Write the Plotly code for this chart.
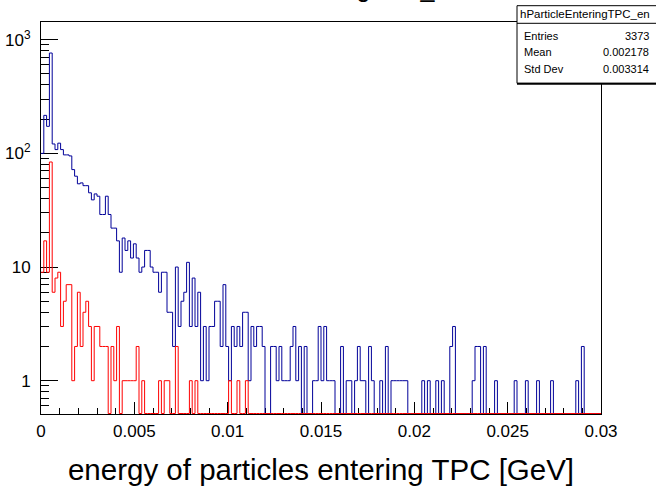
import numpy as np
import plotly.graph_objects as go

# Histogram binning: 200 bins between 0 and 0.03 GeV
x_min, x_max, n_bins = 0.0, 0.03, 200

# Bin contents of the two histograms (counts per bin)
blue_counts = [
    100, 216, 173, 764, 121, 108, 123, 108, 97, 97,
    95, 72, 63, 54, 55, 52, 52, 45, 39, 44,
    42, 29, 29, 42, 29, 22, 22, 17, 9, 18,
    14, 17, 12, 16, 12, 9, 10, 14, 14, 10,
    9, 9, 6, 9, 9, 4, 4, 2, 10, 3,
    5, 6, 11, 3, 8, 3, 6, 1, 3, 1,
    3, 3, 5, 5, 2, 7, 2, 1, 3, 2,
    3, 2, 4, 4, 1, 3, 2, 3, 3, 2,
    0, 0, 2, 2, 1, 2, 1, 1, 1, 2,
    3, 1, 2, 0, 2, 0, 0, 1, 1, 3,
    1, 3, 1, 1, 1, 0, 0, 2, 0, 1,
    1, 0, 1, 2, 1, 1, 0, 2, 1, 0,
    0, 1, 0, 2, 0, 1, 1, 1, 1, 1,
    1, 0, 0, 0, 0, 0, 1, 0, 1, 0,
    0, 1, 0, 1, 0, 0, 2, 3, 0, 0,
    0, 0, 0, 0, 1, 2, 2, 0, 2, 0,
    0, 0, 1, 0, 0, 0, 0, 0, 0, 1,
    0, 0, 0, 1, 0, 0, 0, 1, 0, 0,
    0, 0, 1, 0, 0, 0, 0, 0, 0, 0,
    0, 1, 0, 2, 0, 0, 0, 0, 0, 0,
]
red_counts = [
    9, 17, 9, 84, 6, 8, 9, 3, 5, 7,
    7, 1, 2, 6, 2, 4, 5, 3, 1, 3,
    3, 2, 2, 2, 0, 2, 1, 3, 0, 1,
    1, 1, 1, 1, 2, 0, 1, 0, 0, 0,
    0, 0, 1, 0, 1, 1, 0, 0, 2, 0,
    0, 0, 0, 1, 0, 1, 0, 0, 0, 0,
    0, 0, 0, 0, 0, 0, 0, 1, 0, 0,
    1, 0, 0, 1, 0, 0, 0, 0, 0, 0,
] + [0] * 120

# Axis tick labels
x_tick_vals = [0, 0.005, 0.01, 0.015, 0.02, 0.025, 0.03]
x_tick_text = ["0", "0.005", "0.01", "0.015", "0.02", "0.025", "0.03"]
y_tick_vals = [1, 10, 100, 1000]
y_tick_text = ["1", "10", "10<sup>2</sup>", "10<sup>3</sup>"]

# Statistics box contents
hist_name = "hParticleEnteringTPC_en"
stat_labels = ["Entries", "Mean", "Std Dev"]
stat_values = ["3373", "0.002178", "0.003314"]
x_title = "energy of particles entering TPC [GeV]"

# ---------------------------------------------------------------- layout
W, H = 656, 486
M_L, M_R, M_T, M_B = 41, 55, 22, 72
PW, PH = W - M_L - M_R, H - M_T - M_B

y_log_range = [-0.293, 3.156]
# empty bins are drawn along the bottom edge of the frame
y_floor = 10 ** (y_log_range[0] + 0.5 * (y_log_range[1] - y_log_range[0]) / PH)

edges = np.linspace(x_min, x_max, n_bins + 1)


def step_xy(counts):
    c = np.asarray(counts, dtype=float)
    c = np.where(c > 0, c, y_floor)
    return edges, np.append(c, c[-1])


def px(xpix):
    return (xpix - M_L) / PW


def py(ypix):
    return (H - M_B - ypix) / PH


fig = go.Figure()
for counts, color in [(blue_counts, "#000099"), (red_counts, "#ff0000")]:
    xs, ys = step_xy(counts)
    fig.add_trace(go.Scatter(
        x=xs, y=ys, mode="lines", line=dict(color=color, width=1, shape="hv"),
        hoverinfo="skip", showlegend=False,
    ))

minor_y = [v * 10 ** e for e in range(-1, 3) for v in range(2, 10) if 0.5 < v * 10 ** e < 1500]

fig.update_layout(
    width=W, height=H,
    margin=dict(l=M_L, r=M_R, t=M_T, b=M_B, pad=0),
    paper_bgcolor="white", plot_bgcolor="white",
    font=dict(family="Liberation Sans, Arial, sans-serif", color="black"),
    xaxis=dict(
        range=[x_min, x_max], tickmode="array", tickvals=x_tick_vals, ticktext=x_tick_text,
        ticks="inside", ticklen=12, tickcolor="black", tickwidth=1,
        minor=dict(dtick=0.001, tick0=0, ticks="inside", ticklen=6, tickcolor="black", showgrid=False),
        showline=True, linecolor="black", linewidth=1, mirror=True,
        showgrid=False, zeroline=False, layer="below traces", automargin=False,
        tickfont=dict(size=17), ticklabelstandoff=2,
        title=dict(text=x_title, font=dict(size=29.5), standoff=19),
    ),
    yaxis=dict(
        type="log", range=y_log_range, tickmode="array", tickvals=y_tick_vals, ticktext=y_tick_text,
        ticks="inside", ticklen=17, tickcolor="black", tickwidth=1,
        minor=dict(tickmode="array", tickvals=minor_y, ticks="inside", ticklen=8,
                   tickcolor="black", showgrid=False),
        showline=True, linecolor="black", linewidth=1, mirror=True,
        showgrid=False, zeroline=False, layer="below traces", automargin=False,
        tickfont=dict(size=17), ticklabelstandoff=6,
    ),
)

# Histogram title (sits mostly above the canvas)
fig.add_annotation(
    text=hist_name, xref="paper", yref="paper", x=px(320.5), y=py(4.3),
    xanchor="center", yanchor="bottom", showarrow=False, font=dict(size=25),
)

# Statistics box
box_l, box_r, box_t, box_b, sep = 517, 662, 5.7, 83.3, 23.3
fig.add_shape(type="rect", xref="paper", yref="paper",
              x0=px(box_l), x1=px(box_r), y0=py(box_b), y1=py(box_t),
              line=dict(color="black", width=1), fillcolor="white", layer="above")
fig.add_shape(type="line", xref="paper", yref="paper",
              x0=px(box_l), x1=px(box_r), y0=py(box_b + 0.5), y1=py(box_b + 0.5),
              line=dict(color="black", width=2), layer="above")
fig.add_shape(type="line", xref="paper", yref="paper",
              x0=px(box_l), x1=px(box_r), y0=py(sep), y1=py(sep),
              line=dict(color="black", width=1), layer="above")
fig.add_annotation(text=hist_name, xref="paper", yref="paper", x=px(585), y=py(14.3),
                   xanchor="center", yanchor="middle", showarrow=False, font=dict(size=11.5))
row_y = [35.5, 52, 68.5]
for lab, val, yy in zip(stat_labels, stat_values, row_y):
    fig.add_annotation(text=lab, xref="paper", yref="paper", x=px(522), y=py(yy),
                       xanchor="left", yanchor="middle", showarrow=False, font=dict(size=11))
    fig.add_annotation(text=val, xref="paper", yref="paper", x=px(651), y=py(yy),
                       xanchor="right", yanchor="middle", showarrow=False, font=dict(size=11))

fig.write_html("out.html")
